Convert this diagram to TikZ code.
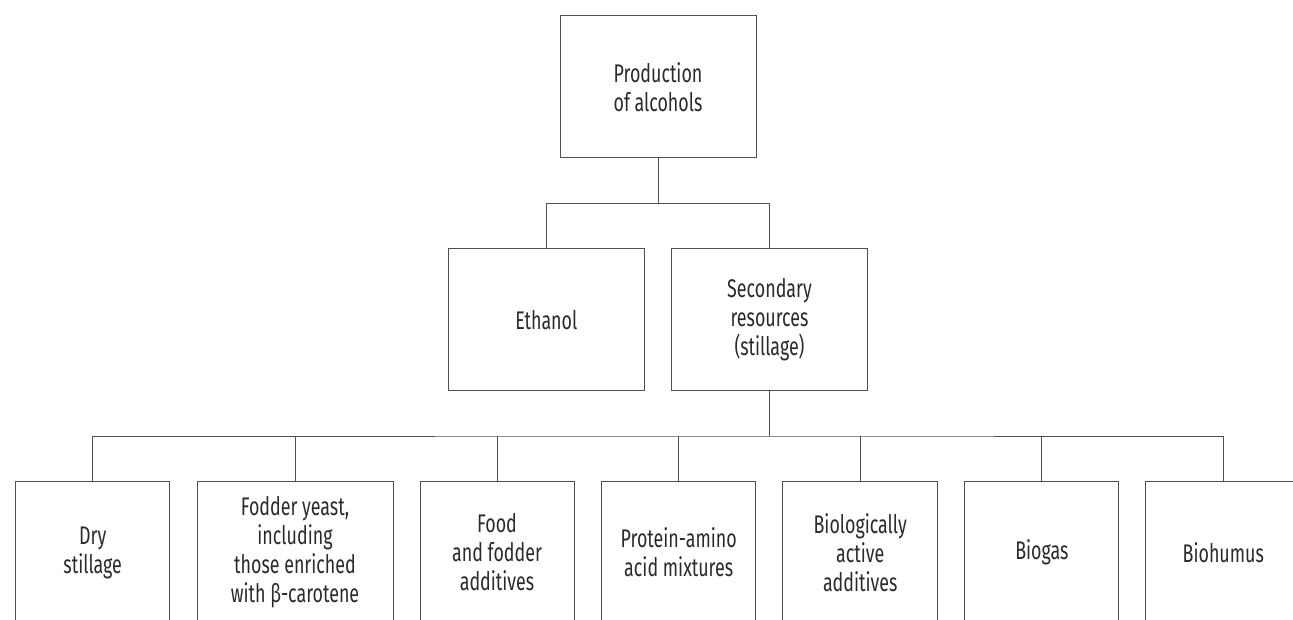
\documentclass[tikz,border=0pt]{standalone}
\usepackage{fontspec}
\setmainfont{Fira Sans}[FakeStretch=0.70]
\definecolor{inkline}{HTML}{505050}
\definecolor{inktext}{HTML}{2A2A2A}
\begin{document}
\begin{tikzpicture}[x=1pt,y=-1pt,
  box/.style={draw=inkline, line width=1pt, rectangle, anchor=north,
    minimum height=142, inner sep=0pt, align=center, text=inktext,
    font=\fontsize{25.5}{29}\selectfont},
  wide/.style={box, minimum width=196},
  narrow/.style={box, minimum width=154},
  link/.style={draw=inkline, line width=1pt}]
\useasboundingbox (0,0) rectangle (1293,619);
\clip (0,0) rectangle (1293,619);
\fill[white] (0,0) rectangle (1293,619);

% top level
\node[wide] (top) at (658,15.3) {Production\\of alcohols};

% second level
\node[wide] (eth) at (546.3,248.3) {Ethanol};
\node[wide] (sec) at (769.5,248.3) {Secondary\\resources\\(stillage)};

% third level
\node[narrow] (b1) at (92.7,481) {Dry\\stillage};
\node[wide]   (b2) at (295,481) {Fodder yeast,\\including\\those enriched\\with β-carotene};
\node[narrow] (b3) at (497,481) {Food\\and fodder\\additives};
\node[narrow] (b4) at (678.7,481) {Protein-amino\\acid mixtures};
\node[narrow, minimum width=155] (b5) at (860.2,481) {Biologically\\active\\additives};
\node[narrow] (b6) at (1041.8,481) {Biogas};
\node[narrow, minimum width=155] (b7) at (1223.3,481) {Biohumus};

% connectors
\coordinate (j1) at (658,203.3);
\coordinate (j2) at (769.5,436);
\draw[link] (top.south) -- (j1);
\draw[link] (eth.north) |- (j1) -| (sec.north);
\draw[link] (sec.south) -- (j2);
\draw[link] (b1.north) |- (j2) -| (b7.north);
\foreach \b in {b2,b3,b4,b5,b6}
  \draw[link] (\b.north) -- (\b.north |- j2);
\end{tikzpicture}
\end{document}
